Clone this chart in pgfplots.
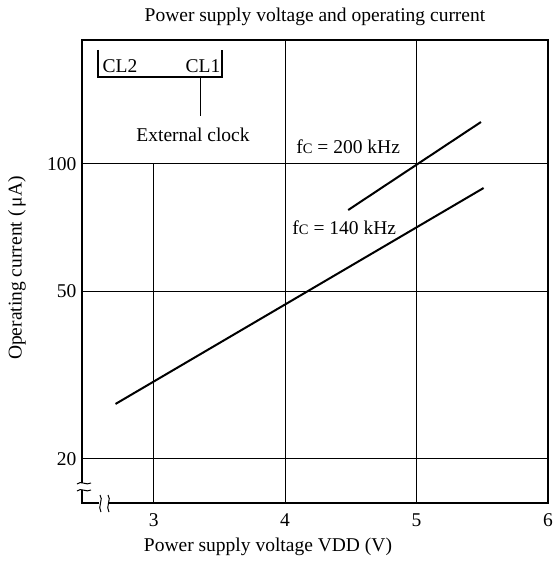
\documentclass[border=0pt]{standalone}
\usepackage{pgfplots}
\pgfplotsset{compat=1.18}
\usepackage{fontspec}
\setmainfont{Liberation Serif}
\begin{document}
\begin{tikzpicture}[font=\fontsize{19.5}{22}\selectfont]
\useasboundingbox (-82pt,-73pt) rectangle (472pt,503pt);
\begin{axis}[
  at={(0pt,0pt)}, anchor=south west,
  scale only axis, width=466pt, height=463pt,
  xmin=2.455, xmax=6, ymin=15.73, ymax=196.7,
  ymode=log,
  xtick={3,4,5,6}, ytick={20,50,100},
  yticklabels={20,50,100},
  log ticks with fixed point,
  major tick length=0pt, minor tick length=0pt,
  axis line style={line width=1.5pt},
  /pgf/number format/assume math mode=true,
  tick label style={font=\fontsize{19.5}{22}\selectfont},
  xticklabel style={yshift=-7pt},
  yticklabel style={xshift=-2pt},
  clip=false,
]
% grid
\draw[line width=1pt] (axis cs:3,15.73) -- (axis cs:3,100);
\draw[line width=1pt] (axis cs:4,15.73) -- (axis cs:4,196.7);
\draw[line width=1pt] (axis cs:5,15.73) -- (axis cs:5,196.7);
\draw[line width=1pt] (axis cs:2.455,20) -- (axis cs:6,20);
\draw[line width=1pt] (axis cs:2.455,50) -- (axis cs:6,50);
\draw[line width=1pt] (axis cs:2.455,100) -- (axis cs:6,100);
% data
\addplot[black, line width=2pt, no marks] coordinates {(2.71,27.0) (5.51,87.7)};
\addplot[black, line width=2pt, no marks] coordinates {(4.48,77.8) (5.49,125.7)};
% labels
\node[fill=white, inner sep=1pt] at (axis cs:4.48,110.0) {f{\fontsize{14.5}{16}\selectfont C} = 200 kHz};
\node[fill=white, inner sep=1pt] at (axis cs:4.45,70.5) {f{\fontsize{14.5}{16}\selectfont C} = 140 kHz};
\end{axis}
% CL box (origin at axis lower-left = px (82,503))
\draw[line width=2pt] (16pt,453pt) -- (16pt,426pt) -- (140pt,426pt) -- (140pt,453pt);
\draw[line width=1pt] (118pt,426pt) -- (118pt,387pt);
\node at (38pt,437pt) {CL2};
\node at (121pt,437pt) {CL1};
\node at (111pt,368pt) {External clock};
% axis breaks
\fill[white] (-5pt,13pt) rectangle (9pt,20pt);
\draw[line width=1pt] (-5pt,12pt) .. controls (-1pt,16pt) and (4pt,10pt) .. (9pt,13pt);
\draw[line width=1pt] (-5pt,19pt) .. controls (-1pt,23pt) and (4pt,17pt) .. (9pt,20pt);
\fill[white] (17pt,-9pt) rectangle (26pt,8pt);
\draw[line width=1pt] (18pt,8pt) .. controls (22pt,4pt) and (15pt,-4pt) .. (19pt,-9pt);
\draw[line width=1pt] (26pt,8pt) .. controls (30pt,4pt) and (23pt,-4pt) .. (27pt,-9pt);
% titles
\node at (233pt,486pt) {Power supply voltage and operating current};
\node at (186pt,-44pt) {Power supply voltage VDD (V)};
\node[rotate=90] at (-65pt,235pt) {Operating current (\,μA)};
\end{tikzpicture}
\end{document}
